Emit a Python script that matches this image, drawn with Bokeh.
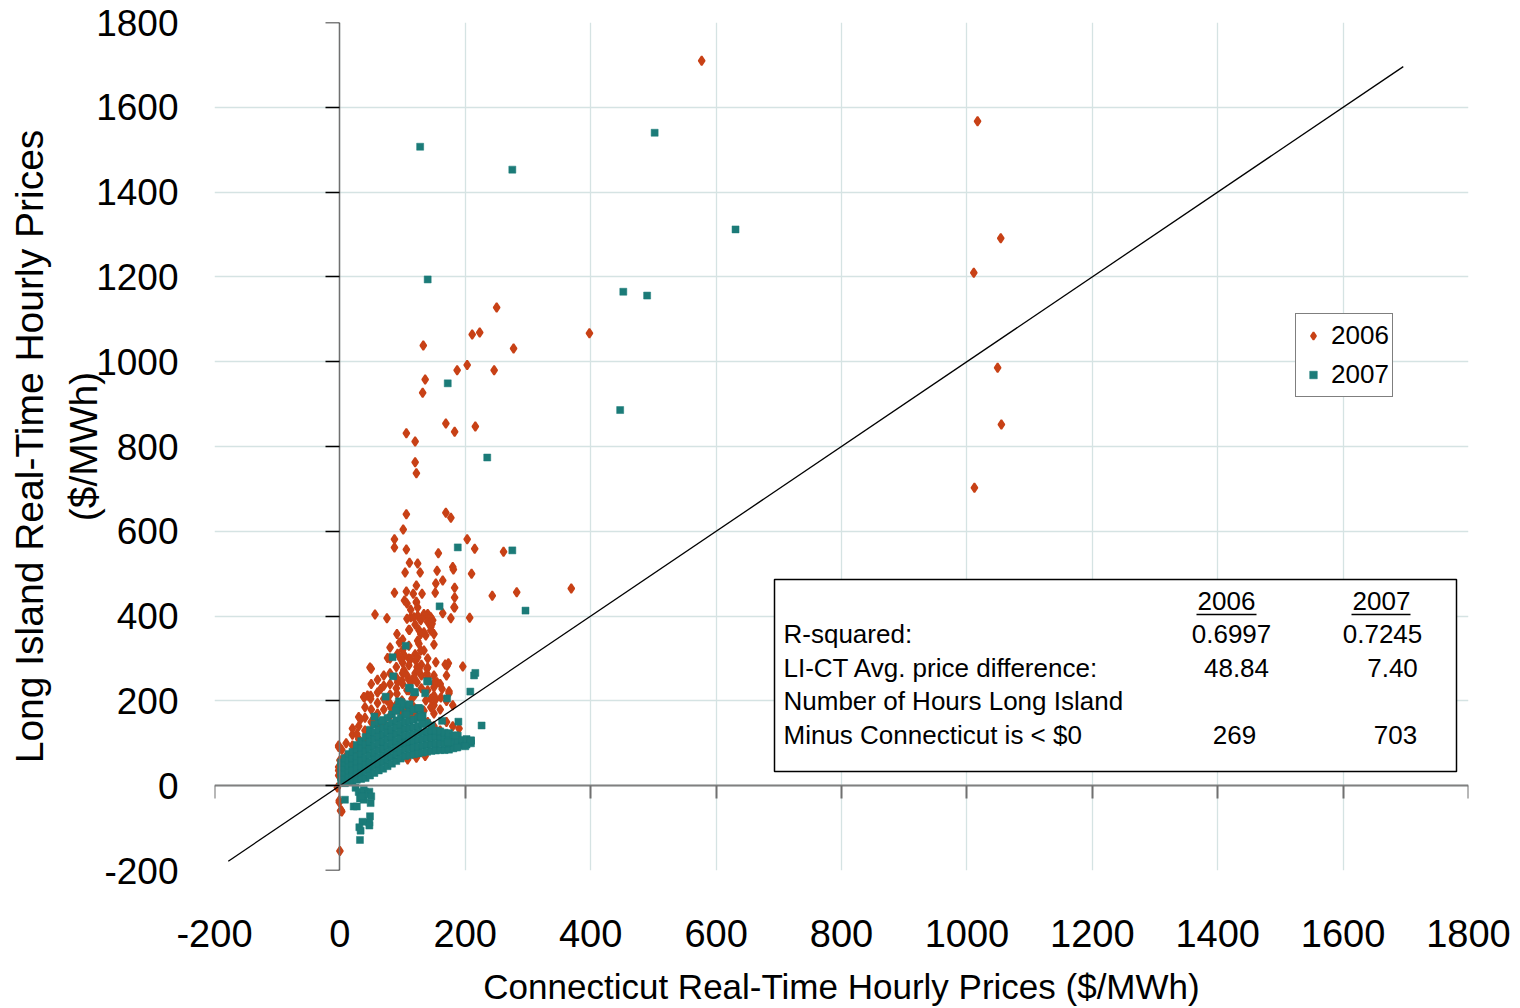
import math
from bokeh.plotting import figure
from bokeh.models import Range1d, LinearAxis, FixedTicker, Label, BoxAnnotation, Legend, LegendItem
from bokeh.embed import file_html
from bokeh.resources import INLINE

# ---------------- data ----------------
x_ticks = [-200, 0, 200, 400, 600, 800, 1000, 1200, 1400, 1600, 1800]
y_ticks = [-200, 0, 200, 400, 600, 800, 1000, 1200, 1400, 1600, 1800]

# 2006 (Connecticut price, Long Island price)
pts_2006_high = [(577, 1710), (1017, 1567), (1054, 1291), (1011, 1210), (1049, 986), (1055, 852),
                 (1012, 703), (398, 1067), (250, 1128), (223, 1069), (211, 1064), (277, 1031),
                 (246, 980), (203, 992), (187, 980), (133, 1038), (136, 958), (132, 927),
                 (169, 854), (183, 835), (216, 847), (106, 831), (120, 812), (120, 763), (122, 737)]
pts_2006_mid = [(106, 640), (169, 644), (177, 632), (101, 604), (203, 581), (87, 581), (87, 562),
                (106, 557), (215, 559), (261, 552), (157, 548), (111, 526), (124, 524), (180, 516),
                (181, 510), (104, 503), (128, 503), (155, 507), (210, 500), (164, 484), (153, 477),
                (122, 472), (183, 467), (87, 455), (106, 458), (117, 453), (131, 453), (152, 455),
                (183, 444), (243, 448), (282, 456), (369, 465), (103, 437), (122, 432), (183, 420),
                (107, 430), (122, 434), (124, 420), (113, 415)]
pts_2006_low = [(56, 404), (75, 395), (164, 407), (140, 405), (145, 397), (177, 395), (207, 396),
                (113, 397), (124, 401), (135, 401), (129, 390), (140, 386), (148, 390), (111, 367),
                (126, 367), (129, 358), (137, 354), (145, 374), (150, 358), (91, 358), (80, 326),
                (95, 338), (124, 342), (129, 319), (150, 333), (76, 301), (92, 311), (103, 307),
                (113, 299), (124, 303), (134, 319), (153, 291), (173, 289), (171, 283), (196, 281),
                (48, 279), (140, 279), (182, 421), (107, 394), (118, 397), (134, 405), (142, 401),
                (147, 382), (145, 366), (134, 362), (110, 368), (126, 335), (97, 299), (121, 295),
                (110, 284), (123, 280), (168, 286), (139, 276), (126, 272)]
pts_2006_band = [(102, 272), (107, 260), (99, 248), (113, 244), (92, 244), (118, 256), (123, 244),
                 (139, 264), (155, 244), (150, 232), (70, 236), (65, 228), (163, 228), (174, 223),
                 (150, 213), (145, 205), (44, 213), (38, 209), (49, 205), (91, 217), (99, 201),
                 (89, 189), (81, 185), (107, 225), (115, 205), (118, 185), (107, 177), (99, 170),
                 (113, 166), (137, 201), (145, 185), (134, 177), (150, 170), (30, 162), (80, 193),
                 (75, 201), (39, 208), (49, 212), (153, 204), (161, 208), (174, 218), (150, 242),
                 (33, 157), (27, 122), (55, 161)]
pts_2006_core = [(3, 30), (3, 60), (3, 85), (10, 40), (10, 70), (10, 100),
                 (20, 60), (20, 95), (20, 120), (20, 135), (30, 80), (30, 110), (30, 140),
                 (40, 100), (40, 130), (40, 160), (40, 185), (50, 120), (50, 150), (50, 180),
                 (50, 240), (50, 276), (60, 140), (60, 170), (60, 195), (60, 220), (60, 250),
                 (70, 150), (70, 180), (70, 205), (70, 260), (80, 165), (80, 215), (80, 240),
                 (80, 265), (80, 300), (90, 180), (90, 230), (90, 255), (90, 280), (100, 190),
                 (100, 240), (100, 265), (100, 290), (100, 320), (100, 345), (110, 180), (110, 225),
                 (110, 250), (110, 300), (110, 330), (120, 170), (120, 215), (120, 265), (120, 310),
                 (120, 380), (130, 160), (130, 230), (130, 260), (130, 285), (140, 150), (140, 225),
                 (140, 255), (140, 300), (150, 140), (150, 190), (150, 260), (160, 130), (160, 180),
                 (160, 240), (170, 150), (170, 200), (170, 260), (180, 140), (180, 190), (190, 135)]
pts_2006_edge = [(-2, 95), (0, 60), (-2, 44), (-2, 24), (-2, 36), (0, 28), (-4, -4), (-1, -39),
                 (1, -59), (3, -61), (0, -154), (-2, 91), (-1, -35), (2, -58), (108, 62),
                 (122, 66), (136, 70)]

# 2007
pts_2007_high = [(128, 1507), (275, 1453), (502, 1540), (631, 1312), (140, 1194), (452, 1165),
                 (490, 1156), (447, 886), (235, 774), (172, 949), (296, 413), (275, 555),
                 (188, 562), (159, 423)]
pts_2007_mid = [(105, 330), (84, 303), (85, 258), (141, 246), (214, 260), (216, 266), (73, 210),
                (112, 230), (120, 220), (136, 218), (171, 206), (208, 222), (98, 197), (95, 185),
                (128, 181), (55, 163), (67, 153), (163, 153), (189, 151), (226, 142), (128, 164),
                (131, 147), (126, 183), (106, 167), (130, 163), (94, 199), (99, 193), (91, 184),
                (89, 177), (110, 231), (118, 221), (139, 246), (209, 106), (200, 93), (187, 90),
                (184, 119), (172, 102)]
pts_2007_neg = [(8, -33), (22, -49), (27, -49), (32, -30), (38, -33), (49, -41), (48, -72),
                (47, -87), (36, -85), (31, -98), (33, -106), (47, -94), (32, -128), (40, -14),
                (47, -14), (25, -5), (30, -15), (38, -10), (45, -20), (50, -25), (35, -25)]
pts_2007_core = [(2, 8), (2, 20), (2, 32), (2, 45), (2, 55),
                 (8, 6), (8, 18), (8, 30), (8, 42), (8, 55), (8, 65),
                 (14, 10), (14, 22), (14, 35), (14, 48), (14, 60), (14, 75),
                 (20, 12), (20, 25), (20, 38), (20, 52), (20, 65), (20, 80),
                 (27, 14), (27, 28), (27, 42), (27, 56), (27, 70), (27, 86), (27, 96),
                 (34, 16), (34, 30), (34, 45), (34, 60), (34, 75), (34, 90), (34, 105),
                 (41, 18), (41, 34), (41, 50), (41, 66), (41, 82), (41, 98), (41, 115),
                 (48, 24), (48, 40), (48, 56), (48, 72), (48, 88), (48, 104), (48, 120), (48, 132),
                 (55, 30), (55, 46), (55, 62), (55, 78), (55, 94), (55, 110), (55, 126), (55, 144),
                 (62, 36), (62, 52), (62, 68), (62, 84), (62, 100), (62, 116), (62, 132), (62, 150),
                 (69, 40), (69, 56), (69, 72), (69, 88), (69, 104), (69, 120), (69, 136), (69, 155),
                 (76, 46), (76, 62), (76, 78), (76, 94), (76, 110), (76, 126), (76, 142), (76, 160),
                 (83, 52), (83, 68), (83, 84), (83, 100), (83, 116), (83, 132), (83, 148), (83, 168),
                 (90, 58), (90, 74), (90, 90), (90, 106), (90, 122), (90, 138), (90, 154), (90, 178),
                 (97, 64), (97, 80), (97, 96), (97, 112), (97, 128), (97, 144), (97, 160), (97, 185),
                 (104, 70), (104, 86), (104, 102), (104, 118), (104, 134), (104, 150), (104, 170), (104, 190),
                 (111, 72), (111, 88), (111, 104), (111, 120), (111, 136), (111, 152), (111, 175), (111, 192),
                 (118, 74), (118, 90), (118, 106), (118, 122), (118, 138), (118, 156), (118, 180),
                 (125, 76), (125, 92), (125, 108), (125, 124), (125, 140), (125, 160), (125, 183),
                 (132, 78), (132, 94), (132, 110), (132, 126), (132, 145), (132, 165),
                 (139, 80), (139, 96), (139, 112), (139, 128), (139, 148),
                 (146, 82), (146, 98), (146, 114), (146, 130), (146, 142),
                 (153, 83), (153, 99), (153, 115), (153, 130),
                 (160, 84), (160, 100), (160, 116), (160, 128),
                 (167, 84), (167, 100), (167, 114), (167, 125),
                 (174, 85), (174, 100), (174, 114), (174, 124),
                 (181, 88), (181, 102), (181, 116), (188, 92), (188, 105), (188, 118),
                 (195, 95), (195, 108), (202, 97), (202, 110), (209, 100), (209, 107)]

diag_x = [-178, 1696]
diag_y = [-178, 1696]

table_years = ["2006", "2007"]
table_rows = ["R-squared:", "LI-CT Avg. price difference:", "Number of Hours Long Island",
              "Minus Connecticut is < $0"]
r_squared = ["0.6997", "0.7245"]
avg_diff = ["48.84", "7.40"]
neg_hours = ["269", "703"]

# ---------------- assemble ----------------
def split(*groups):
    xs, ys = [], []
    for g in groups:
        for a, b in g:
            xs.append(a)
            ys.append(b)
    return xs, ys

ct_2006, li_2006 = split(pts_2006_core, pts_2006_edge, pts_2006_band, pts_2006_low,
                         pts_2006_mid, pts_2006_high)
ct_2007, li_2007 = split(pts_2007_core, pts_2007_neg, pts_2007_mid, pts_2007_high)

ORANGE = "#C84116"
TEAL = "#1B7B78"
FONT = "Liberation Sans"
GRID = "#D5E3E3"

W, H = 1520, 1008
FL, FR, FT, FB = 214.0, 1468.0, 22.0, 870.0

p = figure(width=W, height=H, output_backend="svg", toolbar_location=None,
           x_range=Range1d(-200, 1800), y_range=Range1d(-200, 1800),
           min_border_left=int(FL), min_border_right=int(W - FR),
           min_border_top=int(FT), min_border_bottom=int(H - FB))
p.outline_line_color = None
p.background_fill_color = "white"

# page pixels -> data, for placing the annotation texts
def dx(px):
    return -200 + (px - FL) * 2000.0 / (FR - FL)
def dy(py):
    return -200 + (FB - py) * 2000.0 / (FB - FT)

minus_fix = {-200: "-200"}

# outer axes carrying the labels only
xa = p.xaxis[0]
xa.ticker = FixedTicker(ticks=x_ticks)
xa.major_label_overrides = minus_fix
xa.axis_line_color = None
xa.major_tick_line_color = None
xa.minor_tick_line_color = None
xa.major_tick_in = 0
xa.major_tick_out = 0
xa.major_label_standoff = 49
xa.major_label_text_font = FONT
xa.major_label_text_font_size = "38px"
xa.major_label_text_color = "black"
xa.axis_label = "Connecticut Real-Time Hourly Prices ($/MWh)"
xa.axis_label_text_font = FONT
xa.axis_label_text_font_size = "35px"
xa.axis_label_text_font_style = "normal"
xa.axis_label_text_color = "black"
xa.axis_label_standoff = 17

ya = p.yaxis[0]
ya.ticker = FixedTicker(ticks=y_ticks)
ya.major_label_overrides = minus_fix
ya.axis_line_color = None
ya.major_tick_line_color = None
ya.minor_tick_line_color = None
ya.major_tick_in = 0
ya.major_tick_out = 0
ya.major_label_standoff = 36
ya.major_label_text_font = FONT
ya.major_label_text_font_size = "37px"
ya.major_label_text_color = "black"
ya.axis_label = "Long Island Real-Time Hourly Prices\n($/MWh)"
ya.axis_label_text_font = FONT
ya.axis_label_text_font_size = "39px"
ya.axis_label_text_font_style = "normal"
ya.axis_label_text_color = "black"
ya.axis_label_text_line_height = 1.25
ya.axis_label_standoff = -12

# axes crossing at zero
x0 = LinearAxis(fixed_location=0, ticker=FixedTicker(ticks=x_ticks),
                axis_line_color="#808080", axis_line_width=2,
                major_tick_line_color="#707070", major_tick_line_width=2,
                major_tick_in=0, major_tick_out=13, minor_tick_line_color=None,
                major_label_text_color=None)
p.add_layout(x0, "below")
y0 = LinearAxis(fixed_location=0, ticker=FixedTicker(ticks=y_ticks),
                axis_line_color="#707070", axis_line_width=1.5,
                major_tick_line_color="black", major_tick_line_width=1.5,
                major_tick_in=0, major_tick_out=14, minor_tick_line_color=None,
                major_label_text_color=None)
p.add_layout(y0, "left")

p.xgrid.ticker = FixedTicker(ticks=x_ticks)
p.ygrid.ticker = FixedTicker(ticks=y_ticks)
p.xgrid.grid_line_color = GRID
p.ygrid.grid_line_color = GRID
p.xgrid.grid_line_width = 1.3
p.ygrid.grid_line_width = 1.3

r06 = p.scatter(ct_2006, li_2006, marker="diamond", size=9,
                fill_color=ORANGE, line_color=ORANGE, line_width=1.8)
r07 = p.scatter(ct_2007, li_2007, marker="square", size=7,
                fill_color=TEAL, line_color=TEAL, line_width=0.5)
p.line(diag_x, diag_y, line_color="black", line_width=1.3)

legend = Legend(items=[LegendItem(label="2006", renderers=[r06]),
                       LegendItem(label="2007", renderers=[r07])],
                location=(1295 - FL, FB - 397), orientation="vertical",
                border_line_color="black", border_line_width=1,
                background_fill_color="white", background_fill_alpha=1,
                label_text_font=FONT, label_text_font_size="26px", label_text_color="black",
                padding=3, spacing=2, label_height=37, glyph_height=19, glyph_width=28,
                label_standoff=4, margin=0)
p.add_layout(legend)

# statistics table
p.add_layout(BoxAnnotation(left=dx(774), right=dx(1456), top=dy(579), bottom=dy(771),
                           fill_color="white", fill_alpha=1, line_color="black",
                           line_width=1.5, line_alpha=1))

def lab(text, px, py, align):
    p.add_layout(Label(x=dx(px), y=dy(py), text=text, text_align=align,
                       text_baseline="middle", text_font=FONT, text_font_size="26px",
                       text_color="black", level="overlay"))

lab(table_years[0], 1226, 600, "center")
lab(table_years[1], 1381, 600, "center")
p.segment(x0=[dx(1196), dx(1351)], y0=[dy(614), dy(614)],
          x1=[dx(1256), dx(1410)], y1=[dy(614), dy(614)],
          line_color="black", line_width=1.5, level="overlay")
row_py = [633, 667, 700, 734]
for t, py in zip(table_rows, row_py):
    lab(t, 783, py, "left")
lab(r_squared[0], 1231, row_py[0], "center")
lab(r_squared[1], 1382, row_py[0], "center")
lab(avg_diff[0], 1236, row_py[1], "center")
lab(avg_diff[1], 1392, row_py[1], "center")
lab(neg_hours[0], 1234, row_py[3], "center")
lab(neg_hours[1], 1395, row_py[3], "center")

open("out.html", "w").write(file_html(p, INLINE))
